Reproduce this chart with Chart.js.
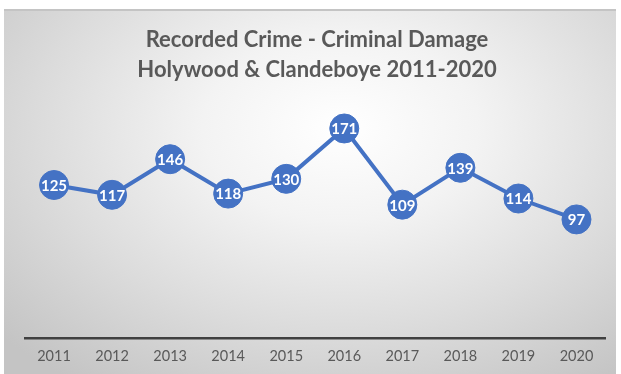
<!DOCTYPE html>
<html>
<head>
<meta charset="utf-8">
<script src="https://cdn.jsdelivr.net/npm/chart.js@4.4.1/dist/chart.umd.min.js"></script>
<style>
  html, body { margin: 0; padding: 0; background: #ffffff; }
  #panel {
    position: absolute; left: 4px; top: 9px; width: 612px; height: 365px;
    border-top: 2px solid #c4c4c4;
    background: radial-gradient(ellipse 75% 85% at 55% 32%, #ffffff 0%, #f3f3f3 30%, #dcdcdc 65%, #c4c4c4 100%);
  }
  #wrap { position: absolute; left: 0; top: 0; width: 621px; height: 374px; }
</style>
</head>
<body>
<div id="panel"></div>
<div id="wrap"><canvas id="crime-chart" width="621" height="374"></canvas></div>
<script>
// Recorded criminal damage, Holywood & Clandeboye
const years = ['2011', '2012', '2013', '2014', '2015', '2016', '2017', '2018', '2019', '2020'];
const offences = [125, 117, 146, 118, 130, 171, 109, 139, 114, 97];
const titleLines = ['Recorded Crime - Criminal Damage', 'Holywood & Clandeboye 2011-2020'];

const textFont = "'Lato', 'Open Sans', sans-serif";

// White value labels drawn inside each marker
const valueLabels = {
    id: 'valueLabels',
    afterDatasetsDraw(chart) {
        const c = chart.ctx;
        const meta = chart.getDatasetMeta(0);
        c.save();
        c.fillStyle = '#ffffff';
        c.font = 'bold 15px ' + textFont;
        c.textAlign = 'center';
        c.textBaseline = 'middle';
        meta.data.forEach((pt, i) => {
            c.fillText(String(offences[i]), pt.x, pt.y + 1);
        });
        c.restore();
    }
};

const ctx = document.getElementById('crime-chart').getContext('2d');
const crimeChart = new Chart(ctx, {
    type: 'line',
    data: {
        labels: years,
        datasets: [{
            data: offences,
            borderColor: '#4472c4',
            borderWidth: 4,
            backgroundColor: '#4472c4',
            pointBackgroundColor: '#4472c4',
            pointBorderColor: '#4472c4',
            pointRadius: 14.5,
            pointBorderWidth: 1,
            tension: 0
        }]
    },
    options: {
        responsive: false,
        animation: false,
        layout: { padding: { left: 25, right: 12, top: 25, bottom: 0 } },
        plugins: {
            legend: { display: false },
            tooltip: { enabled: false },
            title: {
                display: true,
                text: titleLines,
                color: '#595959',
                font: { family: textFont, size: 22, weight: 'bold', lineHeight: 1.36 },
                padding: { top: 0, bottom: 8 }
            }
        },
        scales: {
            x: {
                offset: true,
                grid: { display: false, drawTicks: false },
                border: { display: true, color: '#404040', width: 2.5 },
                ticks: { color: '#595959', font: { family: textFont, size: 14.5 }, padding: 9 }
            },
            y: {
                display: false,
                min: 0,
                max: 200
            }
        }
    },
    plugins: [valueLabels]
});
</script>
</body>
</html>
